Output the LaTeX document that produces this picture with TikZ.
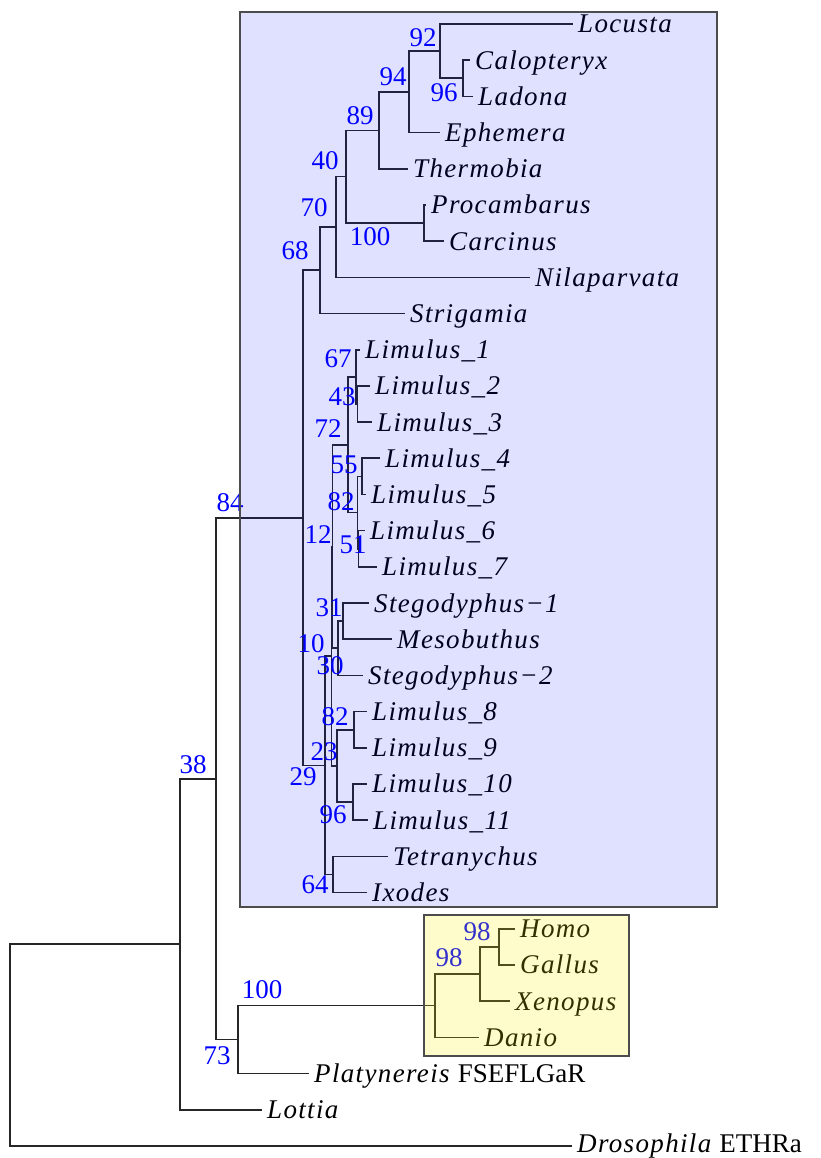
\documentclass[tikz,border=0pt]{standalone}
\usepackage{fontspec}
\setmainfont{Liberation Serif}
\newfontfamily\taxfont{Liberation Serif}[LetterSpace=5]
\newcommand\us{\char"5F\relax}
\begin{document}
\begin{tikzpicture}[x=1pt,y=-1pt,
  br/.style={draw=black!85, line width=1.6pt},
  taxon/.style={anchor=base west, inner sep=0pt, xshift=5pt, yshift=-9pt,
    font=\taxfont\fontsize{27}{27}\selectfont\itshape},
  bs/.style={text=blue, inner sep=0pt, font=\fontsize{27}{27}\selectfont},
  bluebox/.style={draw=black!70, line width=1.4pt, fill=blue, fill opacity=0.12},
  yellowbox/.style={draw=black!70, line width=1.4pt, fill=yellow, fill opacity=0.2}]
\useasboundingbox (0,0) rectangle (820,1158);
\newcommand\leaf[4]{\coordinate (#1) at (#2,{24+36.19*#3}); \node[taxon] (#1-t) at (#1) {#4};}
% leaves
\leaf{Locusta}{573}{0}{Locusta}
\leaf{Calopteryx}{470}{1}{Calopteryx}
\leaf{Ladona}{473}{2}{Ladona}
\leaf{Ephemera}{440}{3}{Ephemera}
\leaf{Thermobia}{408}{4}{Thermobia}
\leaf{Procambarus}{426}{5}{Procambarus}
\leaf{Carcinus}{444}{6}{Carcinus}
\leaf{Nilaparvata}{530}{7}{Nilaparvata}
\leaf{Strigamia}{405}{8}{Strigamia}
\leaf{L1}{360}{9}{Limulus\us 1}
\leaf{L2}{370}{10}{Limulus\us 2}
\leaf{L3}{372}{11}{Limulus\us 3}
\leaf{L4}{380}{12}{Limulus\us 4}
\leaf{L5}{366}{13}{Limulus\us 5}
\leaf{L6}{365}{14}{Limulus\us 6}
\leaf{L7}{377}{15}{Limulus\us 7}
\leaf{S1}{369}{16}{Stegodyphus−1}
\leaf{Meso}{392}{17}{Mesobuthus}
\leaf{S2}{363}{18}{Stegodyphus−2}
\leaf{L8}{367}{19}{Limulus\us 8}
\leaf{L9}{367}{20}{Limulus\us 9}
\leaf{L10}{367}{21}{Limulus\us 10}
\leaf{L11}{368}{22}{Limulus\us 11}
\leaf{Tetra}{388}{23}{Tetranychus}
\leaf{Ixodes}{367}{24}{Ixodes}
\leaf{Homo}{515}{25}{Homo}
\leaf{Gallus}{515}{26}{Gallus}
\leaf{Xenopus}{510}{27}{Xenopus}
\leaf{Danio}{479}{28}{Danio}
\leaf{Platy}{309}{29}{Platynereis {\rmfamily\upshape FSEFLGaR}}
\leaf{Lottia}{262}{30}{Lottia}
\coordinate (Droso) at (572,{24+36.19*31});
\node[taxon, yshift=2.5pt] (Droso-t) at (Droso) {Drosophila {\rmfamily\upshape ETHRa}};
% internal nodes
\coordinate (n96) at (463,78.3);
\coordinate (n92) at (440,51.15);
\coordinate (n94) at (409,91.9);
\coordinate (n89) at (379,130.35);
\coordinate (n100) at (424,223.05);
\coordinate (n40) at (346,176.7);
\coordinate (n70) at (336,227.0);
\coordinate (n68) at (320,270.25);
\coordinate (n43) at (357.5,404.0);
\coordinate (n67) at (356,376.85);
\coordinate (n55) at (362,476.4);
\coordinate (n51) at (358.5,548.75);
\coordinate (n82) at (357.5,512.6);
\coordinate (n72) at (348,444.7);
\coordinate (n31) at (343,621.1);
\coordinate (n30) at (338,648.25);
\coordinate (n12) at (332.5,546.5);
\coordinate (n82b) at (354,729.7);
\coordinate (n96b) at (353,802.1);
\coordinate (n23) at (337,765.9);
\coordinate (n10) at (331.5,656.2);
\coordinate (n64) at (333,874.5);
\coordinate (n29) at (325,765.35);
\coordinate (n84) at (303,517.8);
\coordinate (n98b) at (499,946.85);
\coordinate (n98a) at (480,974.0);
\coordinate (n100b) at (435,1005.65);
\coordinate (n73) at (238,1039.6);
\coordinate (nA) at (216,778.7);
\coordinate (n38) at (180,944.2);
\coordinate (root) at (10,1045);
% branches
\foreach \p/\c in {n96/Calopteryx, n96/Ladona, n92/Locusta, n92/n96, n94/n92, n94/Ephemera,
  n89/n94, n89/Thermobia, n100/Procambarus, n100/Carcinus, n40/n89, n40/n100,
  n70/n40, n70/Nilaparvata, n68/n70, n68/Strigamia,
  n43/L2, n43/L3, n67/L1, n67/n43, n55/L4, n55/L5, n51/L6, n51/L7, n82/n55, n82/n51,
  n72/n67, n72/n82, n31/S1, n31/Meso, n30/n31, n30/S2, n12/n72, n12/n30,
  n82b/L8, n82b/L9, n96b/L10, n96b/L11, n23/n82b, n23/n96b, n10/n12, n10/n23,
  n64/Tetra, n64/Ixodes, n29/n10, n29/n64, n84/n68, n84/n29,
  n98b/Homo, n98b/Gallus, n98a/n98b, n98a/Xenopus, n100b/n98a, n100b/Danio,
  n73/n100b, n73/Platy, nA/n84, nA/n73, n38/nA, n38/Lottia, root/n38, root/Droso}
  \draw[br] (\p) |- (\c);
% support values
\node[bs] (b92) at (423,38) {92};
\node[bs] (b96) at (444,93) {96};
\node[bs] (b94) at (393,77) {94};
\node[bs] (b89) at (360,116) {89};
\node[bs] (b40) at (325,161) {40};
\node[bs] (b70) at (314,208) {70};
\node[bs] (b100) at (370,237) {100};
\node[bs] (b68) at (295,251) {68};
\node[bs] (b67) at (338,359) {67};
\node[bs] (b43) at (342,397) {43};
\node[bs] (b72) at (328,429) {72};
\node[bs] (b55) at (344,465) {55};
\node[bs] (b82) at (341,502) {82};
\node[bs] (b12) at (318,535) {12};
\node[bs] (b51) at (353,545) {51};
\node[bs] (b31) at (329,608) {31};
\node[bs] (b10) at (311,644) {10};
\node[bs] (b30) at (330,666) {30};
\node[bs] (b82b) at (335,717) {82};
\node[bs] (b23) at (324,752) {23};
\node[bs] (b29) at (303,777) {29};
\node[bs] (b96b) at (333,815) {96};
\node[bs] (b64) at (315,885) {64};
\node[bs] (b84) at (230,503) {84};
\node[bs] (b38) at (193,765) {38};
\node[bs] (b98b) at (477,932) {98};
\node[bs] (b98a) at (449,958) {98};
\node[bs] (b100b) at (262,990) {100};
\node[bs] (b73) at (217,1056) {73};
% clade boxes
\draw[bluebox] (240,12) rectangle (717,907);
\draw[yellowbox] (424,915) rectangle (629,1056);
\end{tikzpicture}
\end{document}
